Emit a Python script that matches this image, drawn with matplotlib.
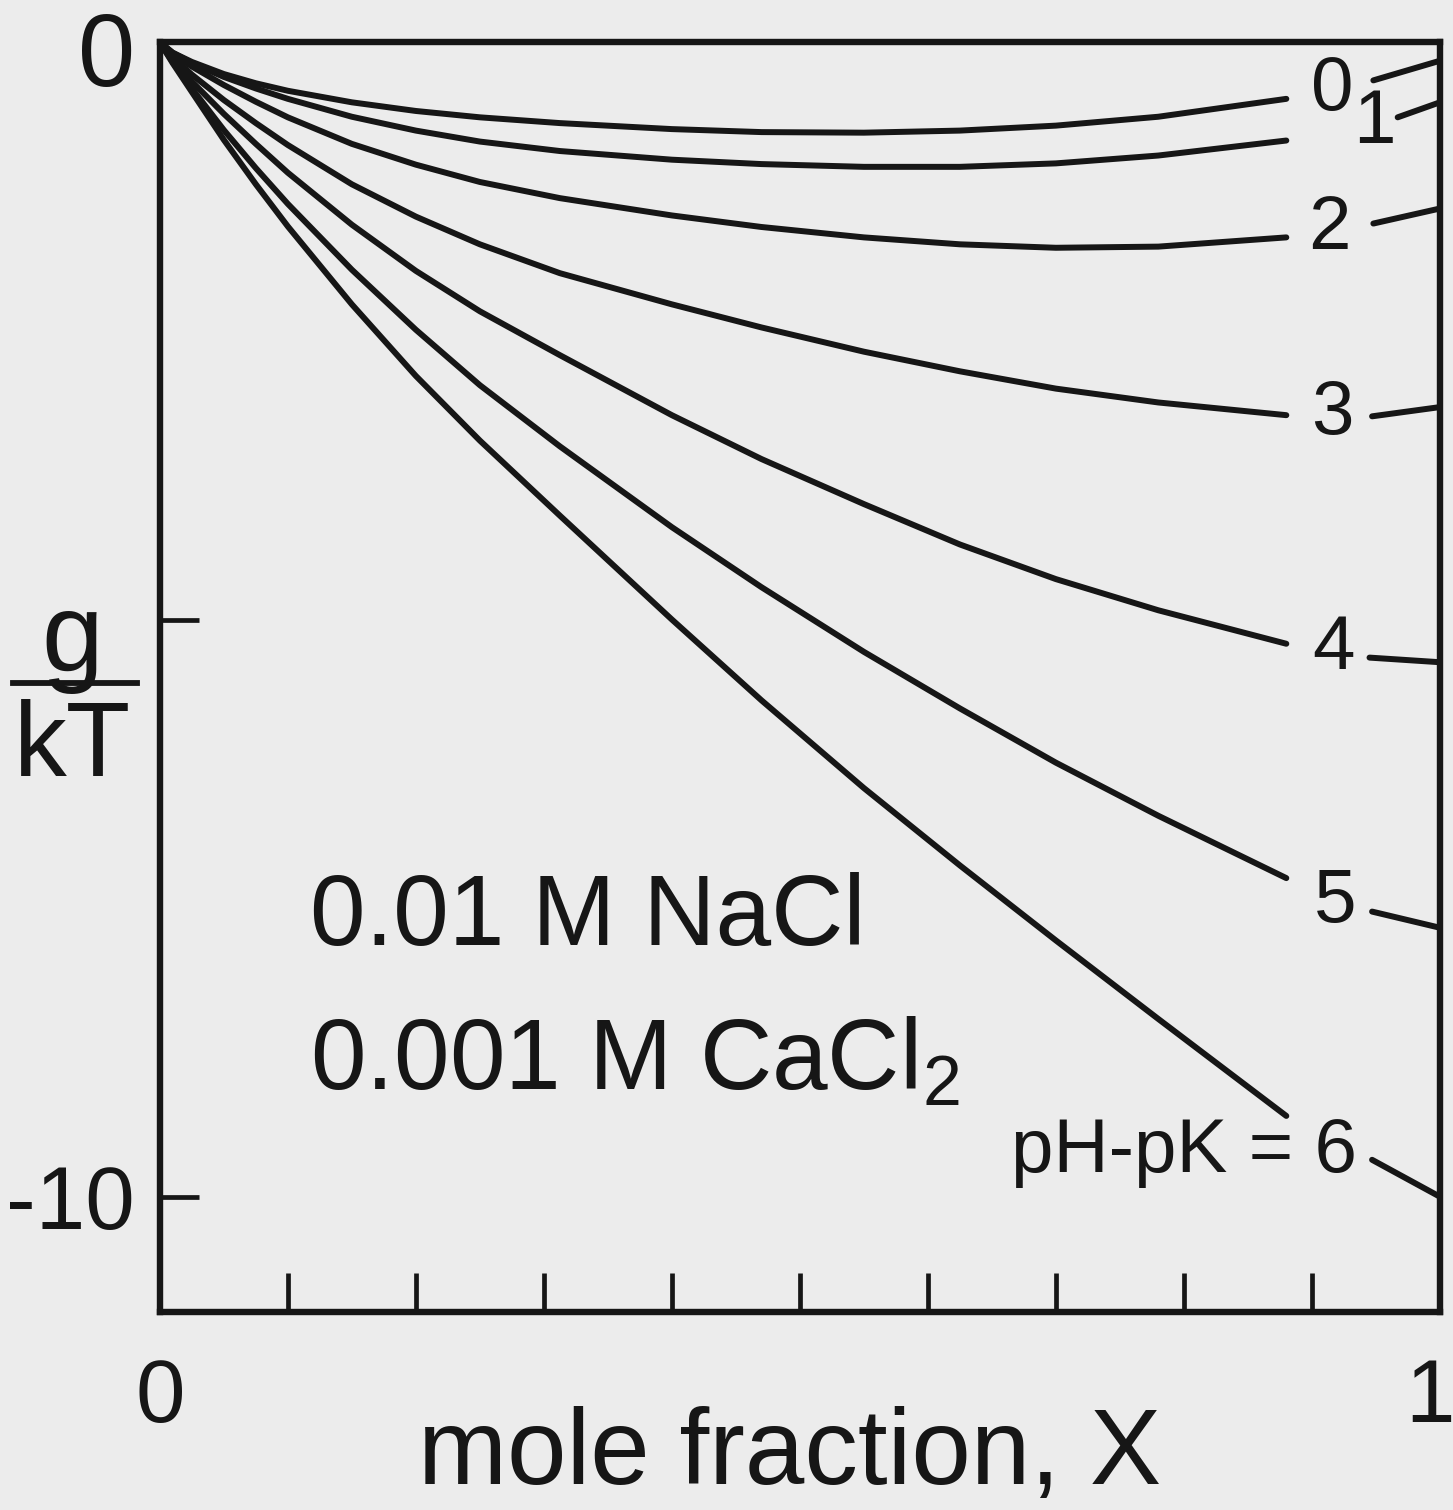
import numpy as np
import matplotlib.pyplot as plt
from matplotlib.lines import Line2D
from matplotlib.transforms import ScaledTranslation

plt.rcParams['font.family'] = ['Liberation Sans', 'DejaVu Sans']
plt.rcParams['mathtext.fontset'] = 'custom'
plt.rcParams['mathtext.rm'] = 'Liberation Sans'

# mole fraction values for the part of each curve left of its label
x_left = [0, 0.01, 0.025, 0.05, 0.075, 0.1, 0.15, 0.2, 0.25, 0.3125,
          0.4, 0.47, 0.55, 0.625, 0.7, 0.78, 0.88]

# g/kT, one list per pH-pK value
g_0 = [0, -0.09, -0.17, -0.275, -0.355, -0.42, -0.52, -0.595, -0.65, -0.70,
       -0.752, -0.778, -0.783, -0.765, -0.722, -0.645, -0.49]
g_1 = [0, -0.09, -0.18, -0.30, -0.40, -0.49, -0.645, -0.765, -0.86, -0.942,
       -1.017, -1.055, -1.079, -1.079, -1.049, -0.981, -0.851]
g_2 = [0, -0.10, -0.21, -0.37, -0.515, -0.65, -0.88, -1.06, -1.21, -1.35,
       -1.50, -1.60, -1.69, -1.75, -1.78, -1.77, -1.69]
g_3 = [0, -0.13, -0.28, -0.50, -0.70, -0.89, -1.23, -1.51, -1.75, -2.00,
       -2.27, -2.47, -2.68, -2.85, -3.00, -3.12, -3.23]
g_4 = [0, -0.155, -0.34, -0.62, -0.88, -1.13, -1.58, -1.98, -2.33, -2.71,
       -3.23, -3.61, -4.00, -4.35, -4.65, -4.92, -5.21]
g_5 = [0, -0.17, -0.40, -0.76, -1.09, -1.40, -1.97, -2.49, -2.97, -3.50,
       -4.20, -4.72, -5.28, -5.77, -6.24, -6.70, -7.24]
g_6 = [0, -0.18, -0.43, -0.845, -1.23, -1.595, -2.27, -2.89, -3.45, -4.10,
       -5.00, -5.70, -6.46, -7.13, -7.78, -8.46, -9.30]
curves = [g_0, g_1, g_2, g_3, g_4, g_5, g_6]

# short pieces right of the labels, ending at X = 1
x_right_start = [0.948, 0.967, 0.948, 0.947, 0.945, 0.947, 0.947]
g_right_start = [-0.33, -0.65, -1.57, -3.24, -5.33, -7.53, -9.68]
g_right_end = [-0.16, -0.52, -1.44, -3.16, -5.37, -7.67, -10.0]

labels = ['0', '1', '2', '3', '4', '5', 'pH-pK = 6']
label_x = [0.916, 0.949, 0.914, 0.916, 0.917, 0.918, 0.935]
label_y = [-0.42, -0.70, -1.62, -3.22, -5.26, -7.45, -9.62]

bg = '#ececec'
ink = '#161616'

fig = plt.figure(figsize=(14.53, 15.10), dpi=100, facecolor=bg)
ax = fig.add_axes([0.110, 0.131, 0.881, 0.841], facecolor=bg)

for i in range(len(curves)):
    ax.plot(x_left, curves[i], color=ink, lw=4.3,
            solid_capstyle='round', solid_joinstyle='round')
    ax.plot([x_right_start[i], 1.0], [g_right_start[i], g_right_end[i]],
            color=ink, lw=4.3, solid_capstyle='round', clip_on=False)
    ha = 'right' if i == 6 else 'center'
    ax.text(label_x[i], label_y[i], labels[i], fontsize=55, color=ink,
            ha=ha, va='center')

ax.text(0.117, -7.82, '0.01 M NaCl', fontsize=72, color=ink, ha='left', va='baseline')
ax.text(0.117, -9.07, r'0.001 M CaCl$_\mathregular{2}$', fontsize=72, color=ink,
        ha='left', va='baseline')

ax.set_xlim(0, 1)
ax.set_ylim(-11, 0)
xt = np.round(np.arange(0, 1.01, 0.1), 1)
ax.set_xticks(xt)
ax.set_xticklabels(['0'] + [''] * 9 + ['1'])
ax.set_yticks([0, -5, -10])
ax.set_yticklabels(['0', '', '-10'])
ax.tick_params(direction='in', length=28, width=3.4, colors=ink, labelsize=64)
ax.tick_params(axis='x', pad=32)
ax.tick_params(axis='y', pad=18)
for s in ax.spines.values():
    s.set_linewidth(4.6)
    s.set_color(ink)

# the top "0" is drawn larger in the original, the "1" sits at the page edge
ytl = ax.get_yticklabels()
ytl[0].set_fontsize(74)
ytl[0].set_transform(ytl[0].get_transform() + ScaledTranslation(0, -0.06, fig.dpi_scale_trans))
xtl = ax.get_xticklabels()
xtl[-1].set_transform(xtl[-1].get_transform() + ScaledTranslation(-0.1, 0, fig.dpi_scale_trans))

# axis labels
fig.text(0.492 * 0.881 + 0.110, 0.036, 'mole fraction, X', fontsize=77, color=ink,
         ha='center', va='center')
fig.text(0.050, 0.575, 'g', fontsize=80, color=ink, ha='center', va='center')
fig.text(0.050, 0.504, 'kT', fontsize=76, color=ink, ha='center', va='center')
fig.add_artist(Line2D([0.009, 0.094], [0.548, 0.548], color=ink, lw=4.2))

fig.savefig('out.png', dpi=100, facecolor=bg)
